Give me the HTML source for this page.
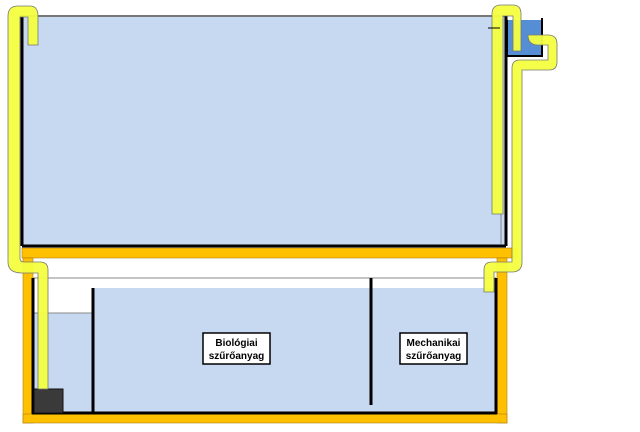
<!DOCTYPE html>
<html><head><style>html,body{margin:0;padding:0;background:#fff;}svg{display:block}</style></head>
<body>
<svg width="640" height="432" xmlns="http://www.w3.org/2000/svg" font-family="Liberation Sans, sans-serif">
<!-- upper tank -->
<rect x="22" y="17" width="484" height="229" fill="#c6d9f1"/>
<line x1="22" y1="16" x2="506" y2="16" stroke="#777" stroke-width="2"/>
<line x1="22" y1="15" x2="22" y2="246" stroke="#000" stroke-width="3"/>
<line x1="506" y1="16" x2="506" y2="246" stroke="#000" stroke-width="3"/>
<line x1="22" y1="246" x2="506" y2="246" stroke="#000" stroke-width="3"/>
<line x1="501" y1="18" x2="501" y2="244" stroke="#888" stroke-width="1"/>
<!-- stand -->
<rect x="22" y="248" width="496" height="10" fill="#ffc000" stroke="#a07000" stroke-width="0.5"/>
<rect x="23" y="258" width="10" height="165" fill="#ffc000" stroke="#a07000" stroke-width="0.5"/>
<rect x="497" y="258" width="10" height="165" fill="#ffc000" stroke="#a07000" stroke-width="0.5"/>
<rect x="23" y="414" width="484" height="9" fill="#ffc000" stroke="#a07000" stroke-width="0.5"/>
<!-- sump -->
<line x1="33" y1="278" x2="496" y2="278" stroke="#888" stroke-width="1"/>
<rect x="33" y="313" width="59" height="100" fill="#c6d9f1"/>
<line x1="33" y1="313" x2="92" y2="313" stroke="#888" stroke-width="1"/>
<rect x="92" y="288" width="404" height="125" fill="#c6d9f1"/>
<line x1="33" y1="278" x2="33" y2="414" stroke="#000" stroke-width="3"/>
<line x1="496" y1="278" x2="496" y2="414" stroke="#000" stroke-width="3"/>
<line x1="32" y1="413" x2="497" y2="413" stroke="#000" stroke-width="3"/>
<line x1="93" y1="288" x2="93" y2="413" stroke="#000" stroke-width="3"/>
<line x1="371" y1="278" x2="371" y2="405" stroke="#000" stroke-width="3"/>
<rect x="34" y="389" width="29" height="24" fill="#3a3a3a" stroke="#111"/>
<!-- labels -->
<rect x="203" y="333" width="67" height="31" fill="#fff" stroke="#000" stroke-width="1.5"/>
<text x="236.5" y="346" font-size="10" font-weight="bold" text-anchor="middle">Biológiai</text>
<text x="236.5" y="359" font-size="10" font-weight="bold" text-anchor="middle">szűrőanyag</text>
<rect x="400" y="333" width="67" height="31" fill="#fff" stroke="#000" stroke-width="1.5"/>
<text x="433.5" y="346" font-size="10" font-weight="bold" text-anchor="middle">Mechanikai</text>
<text x="433.5" y="359" font-size="10" font-weight="bold" text-anchor="middle">szűrőanyag</text>
<!-- blue box -->
<rect x="507" y="20" width="35" height="36" fill="#558ed5"/>
<polyline points="507,20 507,56 542,56 542,18" fill="none" stroke="#000" stroke-width="2"/>
<g fill="#f4ff40" fill-opacity="0.95" stroke="#777" stroke-width="0.8">
<!-- left pipes -->
<path d="M8,262 L8,16 Q8,6 18,6 L30,6 Q38,6 38,16 L38,45 L28,45 L28,17 L20,17 L20,258 Q20,262 24,262 L40,262 Q48,262 48,270 L48,389 L38,389 L38,273 L22,273 Q8,273 8,262 Z"/>
<!-- right top pipes -->
<path d="M492,214 L492,14 Q492,5 501,5 L513,5 Q521,5 521,14 L521,51 L513,51 L513,16 L503,16 L503,214 Z"/>
<path d="M528,35 L548,35 Q557,35 557,44 L557,62 Q557,70 549,70 L522,70 L522,262 Q522,272 512,272 L494,272 L494,292 L484,292 L484,270 Q484,262 492,262 L512,262 L512,68 Q512,60 520,60 L548,60 L548,45 L538,45 Q528,45 528,35 Z"/>
</g>
<line x1="488" y1="28" x2="500" y2="28" stroke="#000" stroke-width="1"/>
</svg>
</body></html>
